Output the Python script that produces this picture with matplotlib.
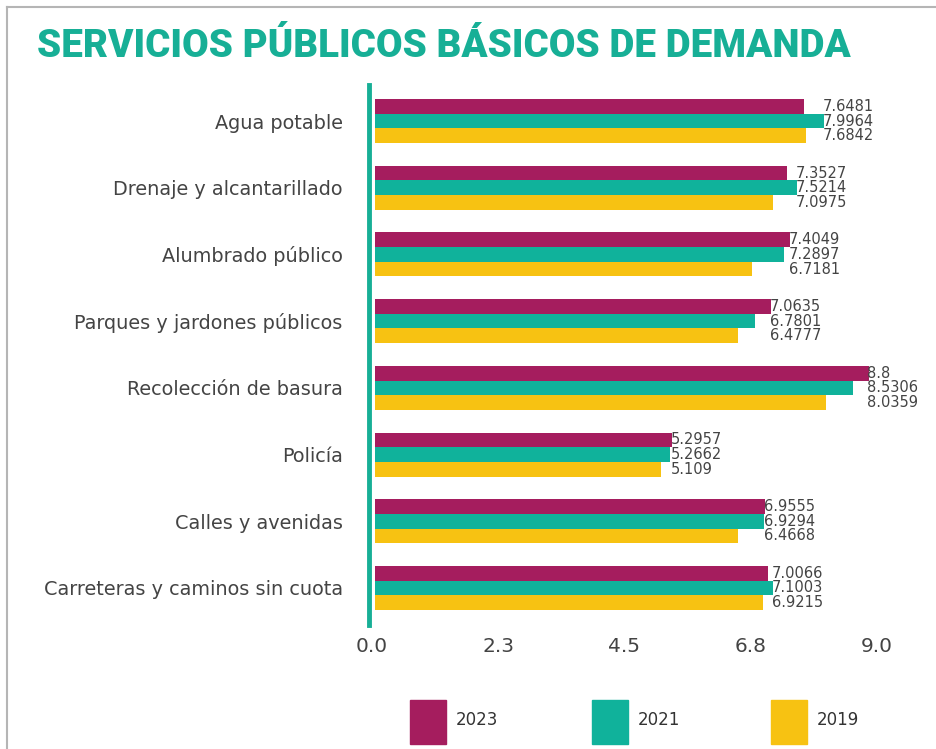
import numpy as np
import matplotlib.pyplot as plt
from matplotlib.lines import Line2D
from matplotlib.patches import Rectangle

# Data
servicios = ["Agua potable", "Drenaje y alcantarillado", "Alumbrado público",
             "Parques y jardones públicos", "Recolección de basura", "Policía",
             "Calles y avenidas", "Carreteras y caminos sin cuota"]
v2023 = [7.6481, 7.3527, 7.4049, 7.0635, 8.8, 5.2957, 6.9555, 7.0066]
v2021 = [7.9964, 7.5214, 7.2897, 6.7801, 8.5306, 5.2662, 6.9294, 7.1003]
v2019 = [7.6842, 7.0975, 6.7181, 6.4777, 8.0359, 5.109, 6.4668, 6.9215]
etiquetas_v2023 = ["7.6481", "7.3527", "7.4049", "7.0635", "8.8", "5.2957", "6.9555", "7.0066"]
etiquetas_v2021 = ["7.9964", "7.5214", "7.2897", "6.7801", "8.5306", "5.2662", "6.9294", "7.1003"]
etiquetas_v2019 = ["7.6842", "7.0975", "6.7181", "6.4777", "8.0359", "5.109", "6.4668", "6.9215"]
anios = ["2023", "2021", "2019"]
ticks = [0.0, 2.25, 4.5, 6.75, 9.0]
tick_labels = ["0.0", "2.3", "4.5", "6.8", "9.0"]

colores = ["#A51D5E", "#10B29B", "#F7C212"]
teal = "#17AF96"
gris = "#444444"

plt.rcParams['font.family'] = ['DejaVu Sans']

fig = plt.figure(figsize=(9.36, 7.49), dpi=100)
ax = fig.add_axes([0.3974, 0.1656, 0.9370 - 0.3974, 0.8865 - 0.1656])

y = np.arange(len(servicios))
h = 0.22
series = [v2023, v2021, v2019]
labels = [etiquetas_v2023, etiquetas_v2021, etiquetas_v2019]
for i, (vals, col) in enumerate(zip(series, colores)):
    ax.barh(y + (i - 1) * h, vals, height=h, color=col, left=0.05)

# value labels, aligned after the longest bar of each group
for j in range(len(servicios)):
    xmax = max(v2023[j], v2021[j], v2019[j])
    for i in range(3):
        ax.text(xmax + 0.03, y[j] + (i - 1) * h, labels[i][j], va='center', ha='left',
                fontsize=10.5, color=gris)

ax.set_xlim(0, 9)
ax.set_ylim(7.555, -0.54)
ax.set_yticks(y)
ax.set_yticklabels(servicios)
ax.set_xticks(ticks)
ax.set_xticklabels(tick_labels)
ax.tick_params(axis='both', length=0, labelcolor=gris)
ax.tick_params(axis='y', pad=19, labelsize=13.9)
ax.tick_params(axis='x', pad=9, labelsize=14.5)
for s in ['top', 'right', 'bottom']:
    ax.spines[s].set_visible(False)
ax.spines['left'].set_color(teal)
ax.spines['left'].set_linewidth(3.5)
ax.spines['left'].set_position(('outward', 2))

# title
fig.text(0.040, 0.9373, "SERVICIOS PÚBLICOS BÁSICOS DE DEMANDA", fontsize=27.7,
         fontweight=900, family=['Roboto', 'DejaVu Sans'], color=teal,
         ha='left', va='center')

# frame
fig.add_artist(Line2D([0.0075, 1.0], [0.991, 0.991], color="#B5B5B5", lw=1.5))
fig.add_artist(Line2D([0.0075, 0.0075], [0.0, 0.991], color="#B5B5B5", lw=1.5))

# legend
leg_x = [410, 592, 771]
for xi, col, lab in zip(leg_x, colores, anios):
    fig.add_artist(Rectangle((xi / 936, 1 - 744 / 749), 36 / 936, 44 / 749,
                             transform=fig.transFigure, color=col))
    fig.text((xi + 46) / 936, 1 - 720 / 749, lab, fontsize=12, color="#333333",
             ha='left', va='center')

fig.savefig("out.png", dpi=100)
